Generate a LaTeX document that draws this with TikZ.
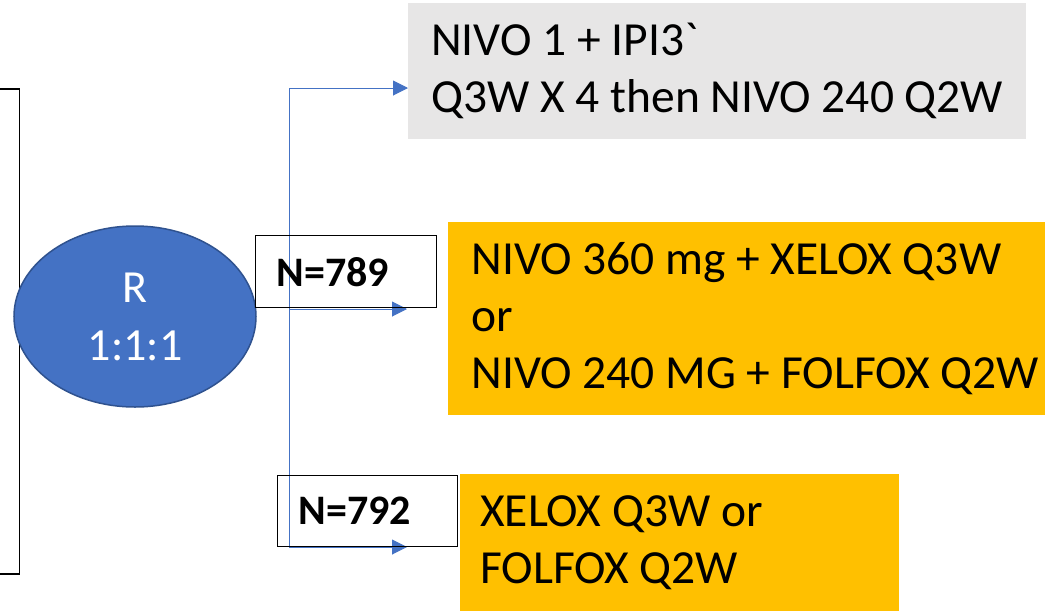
\documentclass[tikz,border=0pt]{standalone}
\usepackage{fontspec}
\setmainfont{Carlito}[Ligatures=TeXOff]
\usetikzlibrary{arrows.meta,shapes.geometric}
\definecolor{pblue}{HTML}{4472C4}
\definecolor{pblueedge}{HTML}{2F528F}
\definecolor{pgrey}{HTML}{E7E6E6}
\definecolor{porange}{HTML}{FFC000}
\tikzset{
  armbox/.style={fill=#1, draw=none, inner ysep=0pt, align=flush left,
    font=\fontsize{47.5}{57}\selectfont},
  nbox/.style={draw=black, line width=1.4pt, fill=none, inner ysep=0pt, align=flush left,
    font=\fontsize{42}{50}\selectfont\bfseries},
  link/.style={draw=pblue, line width=1pt},
  linkarrow/.style={link, -{Triangle[length=15pt,width=15pt]}},
}
\begin{document}
\begin{tikzpicture}[x=1pt,y=-1pt]
\useasboundingbox (0,0) rectangle (1045,611);
\clip (0,0) rectangle (1045,611);

% left (partially visible) box
\node[draw=black, line width=1.5pt, minimum width=40pt, minimum height=485pt,
      inner sep=0pt, anchor=north east] (lb) at (20,88) {};

% randomisation ellipse
\node[ellipse, fill=pblue, draw=pblueedge, line width=1.5pt,
      minimum width=242pt, minimum height=181pt, inner sep=0pt,
      text=white, align=center, font=\fontsize{46}{58}\selectfont] (r) at (135,316.5) {R\\1:1:1};

% arm boxes
\node[armbox=pgrey, minimum width=618pt, minimum height=136pt, anchor=north west] (g) at (408,3)
  {NIVO 1 + IPI3`\\Q3W X 4 then NIVO 240 Q2W};
\node[armbox=porange, minimum width=614pt, minimum height=193pt, anchor=north west] (o1) at (448,222)
  {NIVO 360 mg + XELOX Q3W\\or\\NIVO 240 MG + FOLFOX Q2W};
\node[armbox=porange, text width=399pt, inner xsep=20pt, minimum height=137pt, anchor=north west] (o2) at (460,474)
  {XELOX Q3W or\\FOLFOX Q2W};

% connectors
\coordinate (top) at (289,88);
\coordinate (mid) at (289,309);
\coordinate (bot) at (289,547);
\coordinate (t2) at (407,309);
\coordinate (t3) at (407,547);
\draw[linkarrow] (bot) -- (top) -- (g.west |- top);
\draw[linkarrow] (mid) -- (t2);
\draw[linkarrow] (bot) -- (t3);

% N boxes
\node[nbox, text width=139pt, inner xsep=21pt, minimum height=72pt, anchor=north west] (n1) at (255,235) {N=789};
\node[nbox, text width=138pt, inner xsep=21pt, minimum height=71pt, anchor=north west] (n2) at (277,475) {N=792};
\end{tikzpicture}
\end{document}
